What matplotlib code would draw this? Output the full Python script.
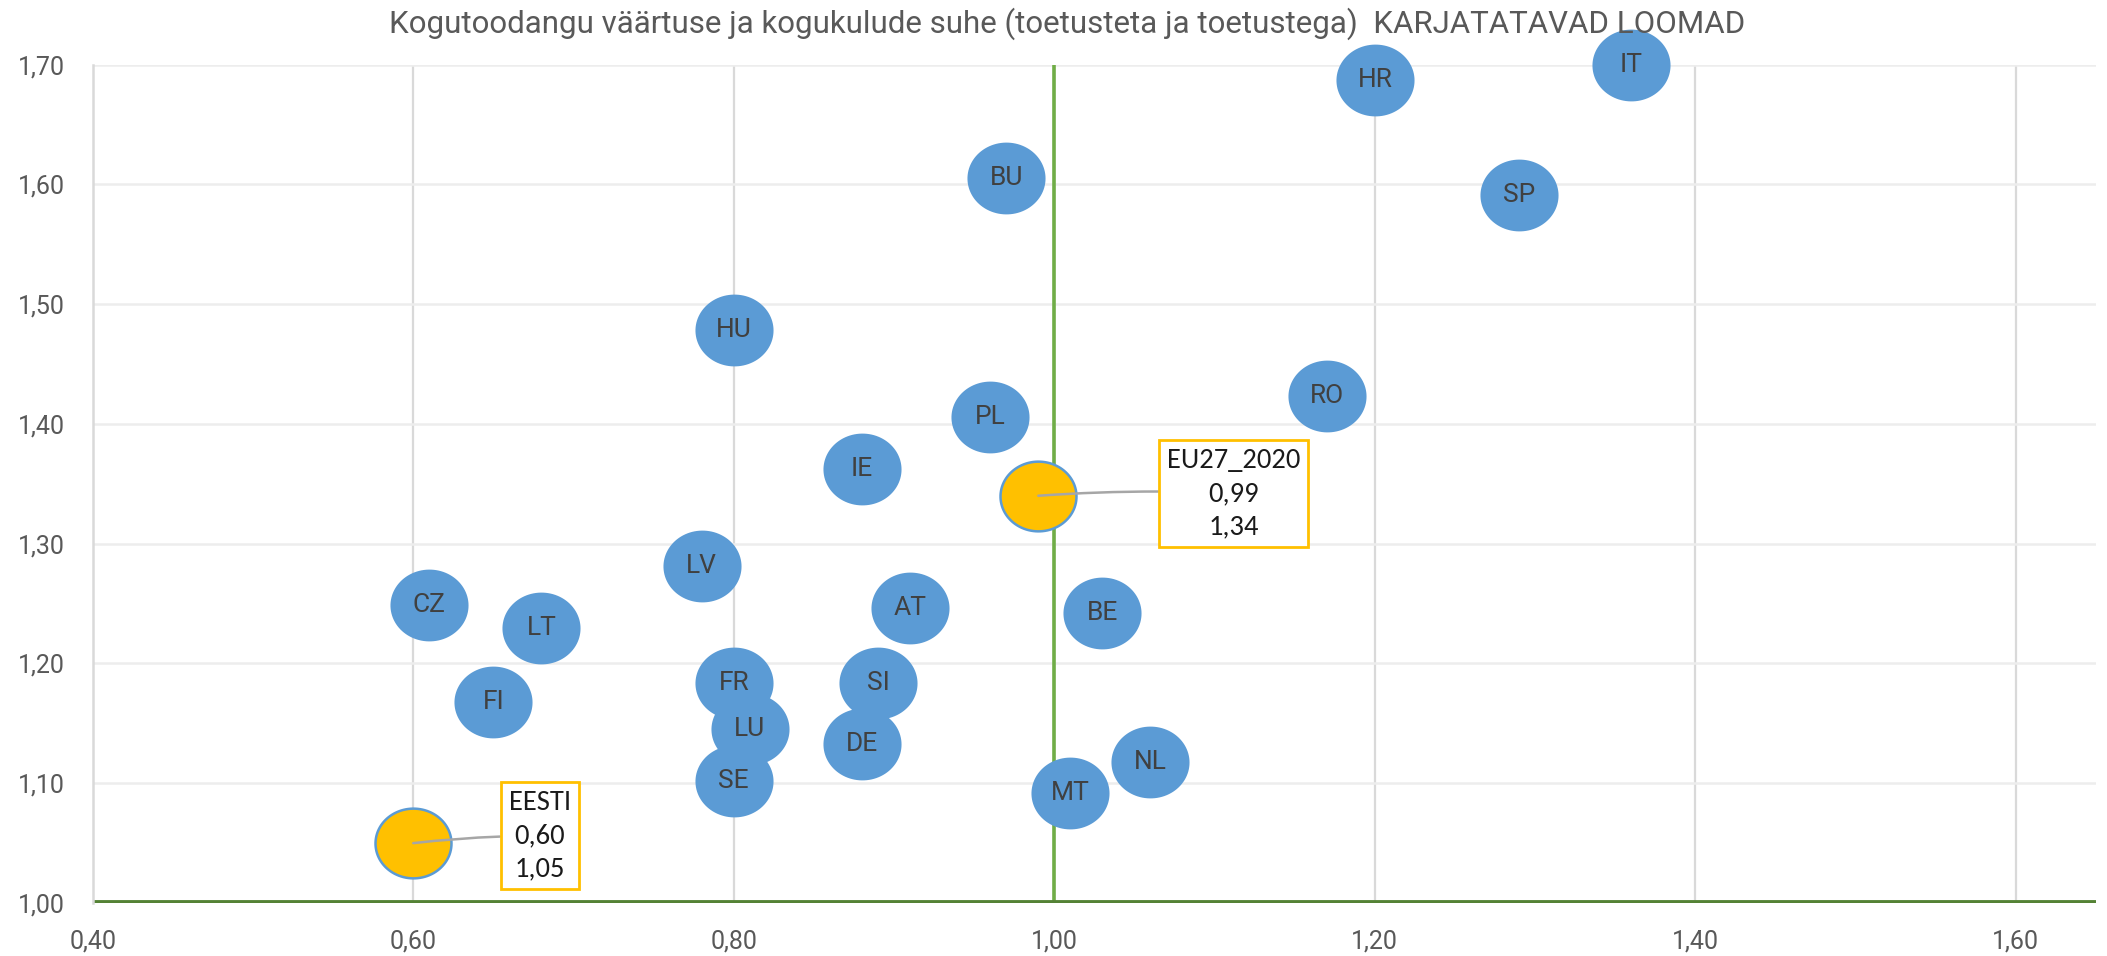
import matplotlib
matplotlib.use("Agg")
import matplotlib.pyplot as plt
from matplotlib.path import Path
from matplotlib.ticker import FuncFormatter
from matplotlib import font_manager
import numpy as np

# ---------------- data ----------------
title = "Kogutoodangu väärtuse ja kogukulude suhe (toetusteta ja toetustega)  KARJATATAVAD LOOMAD"
countries = ["IT", "HR", "SP", "BU", "HU", "RO", "PL", "IE", "LV", "CZ", "LT", "AT",
             "BE", "FR", "SI", "FI", "LU", "DE", "SE", "MT", "NL"]
x_vals = [1.36, 1.20, 1.29, 0.97, 0.80, 1.17, 0.96, 0.88, 0.78, 0.61, 0.68, 0.91,
          1.03, 0.80, 0.89, 0.65, 0.81, 0.88, 0.80, 1.01, 1.06]
y_vals = [1.70, 1.687, 1.591, 1.605, 1.478, 1.423, 1.406, 1.362, 1.281, 1.249, 1.230, 1.246,
          1.242, 1.184, 1.184, 1.168, 1.145, 1.133, 1.102, 1.092, 1.118]
hl_names = ["EESTI", "EU27_2020"]
hl_x = [0.60, 0.99]
hl_y = [1.05, 1.34]
hl_label_pos = [(0.679, 1.056), (1.112, 1.342)]
x_ticks = [0.40, 0.60, 0.80, 1.00, 1.20, 1.40, 1.60]
y_ticks = [1.00, 1.10, 1.20, 1.30, 1.40, 1.50, 1.60, 1.70]

# ---------------- fonts ----------------
avail = {f.name for f in font_manager.fontManager.ttflist}
def pick(*names):
    for n in names:
        if n in avail:
            return n
    return "DejaVu Sans"
roboto = pick("Roboto", "Open Sans")
calib = pick("Carlito", "Lato", "Open Sans")

# ---------------- figure ----------------
fig = plt.figure(figsize=(21.07, 9.56), dpi=100)
ax = fig.add_axes([0.044, 0.0554, 0.9508, 0.8771])
ax.set_xlim(0.40, 1.65)
ax.set_ylim(1.00, 1.70)

ax.set_xticks(x_ticks)
ax.set_yticks(y_ticks)
fmt = FuncFormatter(lambda v, p: f"{v:.2f}".replace(".", ","))
ax.xaxis.set_major_formatter(fmt)
ax.yaxis.set_major_formatter(fmt)

for xv in x_ticks[1:]:
    ax.axvline(xv, color="#D9D9D9", lw=1.6, zorder=0)
for yv in y_ticks[1:]:
    ax.axhline(yv, color="#EDEDED", lw=1.8, zorder=0)

for s in ["top", "right", "bottom"]:
    ax.spines[s].set_visible(False)
ax.spines["left"].set_color("#D9D9D9")
ax.spines["left"].set_linewidth(1.8)

ax.axvline(1.00, color="#70AD47", lw=2.6, zorder=1)
ax.axhline(1.00, color="#548235", lw=4.2, zorder=1, solid_capstyle="butt")

ax.tick_params(axis="both", length=0)
ax.tick_params(axis="y", pad=20, labelsize=18, labelcolor="#595959")
ax.tick_params(axis="x", pad=19, labelsize=18, labelcolor="#595959")
for lab in ax.get_yticklabels() + ax.get_xticklabels():
    lab.set_fontfamily(roboto)

# elliptical bubble marker (slightly wider than tall)
t = np.linspace(0, 2 * np.pi, 100)
verts = np.column_stack([1.09 * np.cos(t), np.sin(t)])
ell = Path(verts, closed=True)
msize = 76 * 72 / 100

ax.scatter(x_vals, y_vals, s=msize ** 2, marker=ell, color="#5B9BD5",
           edgecolors="#5B9BD5", linewidths=1.5, zorder=3, clip_on=False)
for c, xv, yv in zip(countries, x_vals, y_vals):
    ax.text(xv, yv, c, ha="center", va="center", fontsize=19, color="#404040",
            family=roboto, zorder=4)

ax.scatter(hl_x, hl_y, s=msize ** 2, marker=ell, color="#FFC000",
           edgecolors="#5B9BD5", linewidths=1.8, zorder=3)
for name, xv, yv, (lx, ly) in zip(hl_names, hl_x, hl_y, hl_label_pos):
    txt = f"{name}\n{xv:.2f}\n{yv:.2f}".replace(".", ",")
    ax.annotate(txt, xy=(xv, yv), xytext=(lx, ly), textcoords="data",
                ha="center", va="center", fontsize=20.5, family=calib,
                color="#1a1a1a", linespacing=1.4, zorder=6,
                bbox=dict(boxstyle="square,pad=0.28", fc="white", ec="#FFC000", lw=2),
                arrowprops=dict(arrowstyle="-", color="#A6A6A6", lw=1.8,
                                shrinkA=0, shrinkB=0,
                                connectionstyle="arc3,rad=0.03"))

fig.text(0.5065, 0.975, title, ha="center", va="center", fontsize=22.5,
         color="#595959", family=roboto)

fig.savefig("out.png", dpi=100)
